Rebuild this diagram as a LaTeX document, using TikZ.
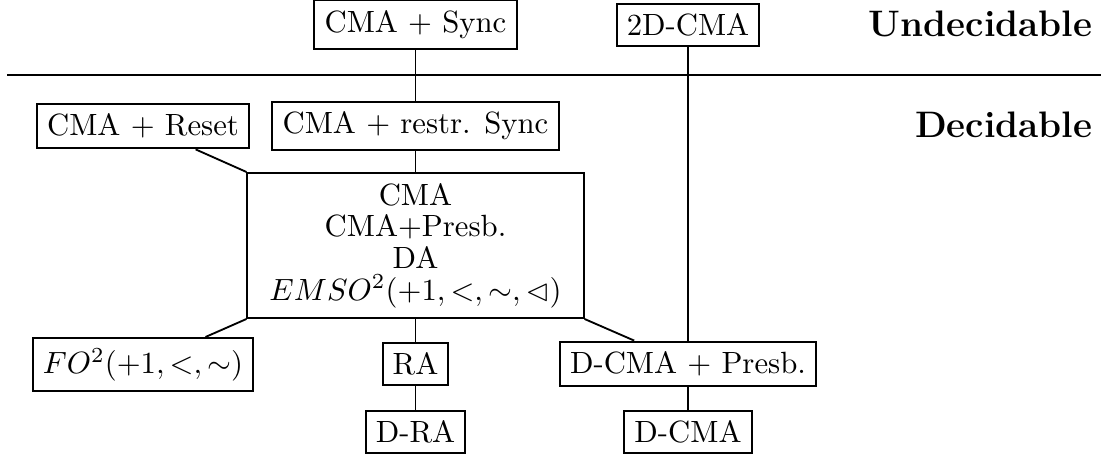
\documentclass[tikz,border=0pt]{standalone}
\usepackage{amssymb}
\begin{document}
\begin{tikzpicture}[x=0.3255pt,y=-0.3255pt,
  every node/.style={font=\fontsize{10}{10.3}\selectfont},
  box/.style={draw, line width=0.65pt, inner sep=3.3pt},
  link/.style={line width=0.6pt},
  zone/.style={font=\large\bfseries, anchor=base east, inner sep=0pt}]
\useasboundingbox (0,0) rectangle (1101,456);

% undecidable / decidable border
\coordinate (splitL) at (7,75);
\coordinate (splitR) at (1101,75);
\draw[line width=0.7pt] (splitL) -- (splitR);
\node[zone] (undec) at (1093,37) {Undecidable};
\node[zone] (dec) at (1093,138) {Decidable};

% upper part
\node[box] (sync) at (415.5,24.5) {CMA + Sync};
\node[box] (cmatwo) at (688,25) {2D-CMA};

% decidable classes
\node[box] (reset) at (143,126) {CMA + Reset};
\node[box] (rsync) at (415.5,126) {CMA + restr. Sync};
\node[box, align=center, minimum width=109.4pt, minimum height=47.2pt] (core) at (415.5,245.5)
  {CMA\\CMA+Presb.\\DA\\$EMSO^2(+1,<,\sim,\lhd)$};
\node[box] (fo) at (143,364.5) {$FO^2(+1,<,\sim)$};
\node[box] (ra) at (415.5,364) {RA};
\node[box] (dra) at (415.5,432) {D-RA};
\node[box] (dcp) at (688,364) {D-CMA + Presb.};
\node[box] (dcma) at (688,432) {D-CMA};

% connections
\draw[link] (sync) -- (rsync);
\draw[link] (cmatwo) -- (dcp);
\draw[link] (rsync) -- (core);
\draw[link] (core.north west) -- (reset);
\draw[link] (core.south west) -- (fo);
\draw[link] (core.south east) -- (dcp);
\draw[link] (core) -- (ra);
\draw[link] (ra) -- (dra);
\draw[link] (dcp) -- (dcma);
\end{tikzpicture}
\end{document}
